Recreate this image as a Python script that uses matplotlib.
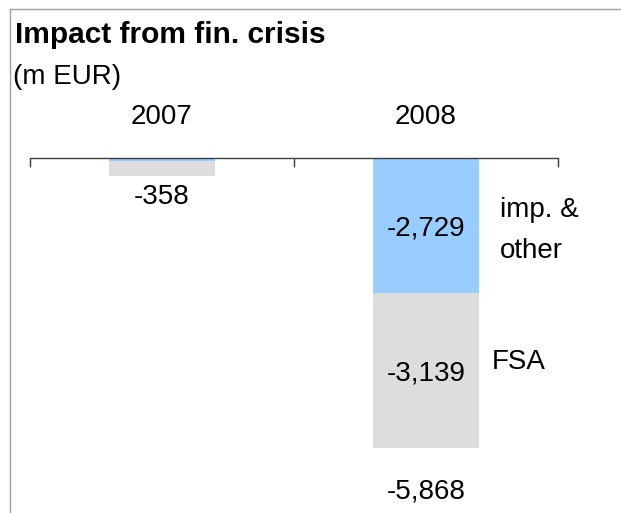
import matplotlib.pyplot as plt
from matplotlib.lines import Line2D

# values (m EUR)
years = ['2007', '2008']
imp_other = [-55, -2729]
fsa = [-303, -3139]
totals = [-358, -5868]
series_names = ['imp. &\nother', 'FSA']
title = 'Impact from fin. crisis'
unit = '(m EUR)'

W, H = 621, 513
plt.rcParams['font.family'] = ['Liberation Sans', 'DejaVu Sans']
plt.rcParams['font.size'] = 20

fig = plt.figure(figsize=(W / 100, H / 100), dpi=100)

# frame lines round the chart region
fig.add_artist(Line2D([10 / W, 1], [1 - 9 / H, 1 - 9 / H], color='#a0a0a0', lw=1))
fig.add_artist(Line2D([10 / W, 10 / W], [0, 1 - 9 / H], color='#a0a0a0', lw=1))

fig.text(15 / W, 1 - 43 / H, title, fontweight='bold', fontsize=21.5, va='baseline')
fig.text(13 / W, 1 - 84 / H, unit, va='baseline')

ax = fig.add_axes([30 / W, 0, 528 / W, (H - 158) / H])
x = list(range(len(years)))
ax.bar(x, imp_other, width=0.4, color='#99ccff')
ax.bar(x, fsa, width=0.4, bottom=imp_other, color='#dddddd')
ax.set_xlim(-0.5, len(years) - 0.5)
ax.set_ylim(min(totals) * 355 / 290, 0)

for s in ['left', 'right', 'bottom']:
    ax.spines[s].set_visible(False)
ax.spines['top'].set_color('#404040')
ax.spines['top'].set_linewidth(1)
ax.xaxis.set_ticks_position('top')
ax.set_xticks([i - 0.5 for i in range(len(years) + 1)])
ax.tick_params(axis='x', direction='in', length=6.5, width=1, color='#404040',
               labeltop=False, labelbottom=False)
ax.set_yticks([])
ax.patch.set_visible(False)

total_offsets = [28, 51]
for i, yr in enumerate(years):
    ax.annotate(yr, (i, 0), xytext=(0, 34), textcoords='offset pixels',
                ha='center', va='baseline', annotation_clip=False)
    ax.annotate(f'{totals[i]:,}', (i, totals[i]), xytext=(0, -total_offsets[i]),
                textcoords='offset pixels', ha='center', va='baseline',
                annotation_clip=False)
    # segment labels only where the segment is tall enough
    for v, b in ((imp_other[i], 0), (fsa[i], imp_other[i])):
        if abs(v) > 1000:
            ax.text(i, b + v / 2, f'{v:,}', ha='center', va='center_baseline')

# series names beside the last bar (baseline = last line)
last = len(years) - 1
ax.annotate(series_names[0], (last + 0.2, imp_other[last] / 2), xytext=(21, -32.5),
            textcoords='offset pixels', ha='left', va='baseline', linespacing=1.75,
            annotation_clip=False)
ax.annotate(series_names[1], (last + 0.2, imp_other[last] + fsa[last] / 2),
            xytext=(13, 1.5), textcoords='offset pixels', ha='left', va='baseline',
            annotation_clip=False)

fig.savefig('out.png', dpi=100)
